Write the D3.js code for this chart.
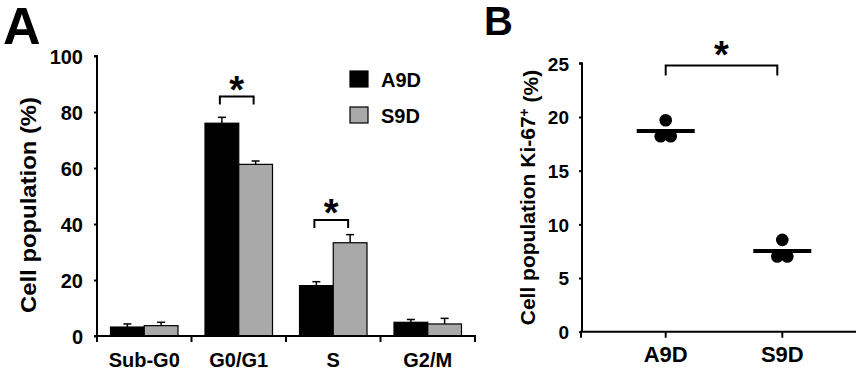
<!DOCTYPE html>
<html>
<head>
<meta charset="utf-8">
<script src="https://cdn.jsdelivr.net/npm/d3@7"></script>
<style>
  html, body { margin: 0; padding: 0; background: #fff; }
  svg { display: block; }
  text { font-family: "Liberation Sans", Arial, Helvetica, sans-serif; font-weight: bold; fill: #000; }
</style>
</head>
<body>
<svg id="chart" width="858" height="370"></svg>
<script>
// ---------- Panel A data ----------
const phases = ["Sub-G0", "G0/G1", "S", "G2/M"];
const seriesNames = ["A9D", "S9D"];
const a9dMean = [3.2, 76.0, 18.0, 4.9];
const a9dErr  = [1.1, 2.1, 1.4, 1.0];
const s9dMean = [3.7, 61.3, 33.3, 4.3];
const s9dErr  = [1.2, 1.2, 2.9, 2.0];
const yTicksA = [0, 20, 40, 60, 80, 100];
const sigA = [{ phase: "G0/G1", level: 85.5 }, { phase: "S", level: 41.4 }];

// ---------- Panel B data ----------
const groupsB = ["A9D", "S9D"];
const ki67A9D = [19.7, 18.2, 18.2];
const ki67S9D = [8.55, 7.0, 7.0];
const yTicksB = [0, 5, 10, 15, 20, 25];
const sigBLevel = 24.8;

const svg = d3.select("#chart");
const grayFill = "#a9a9a9";
const FONT = '"Liberation Sans", Arial, sans-serif';

// ================= PANEL A =================
const gA = svg.append("g");
const xA = d3.scaleBand().domain(phases).range([97, 475]).paddingInner(0).paddingOuter(0);
const xSub = d3.scaleBand().domain(seriesNames).range([0, xA.bandwidth()]).paddingInner(0).paddingOuter(0.4);
const yA = d3.scaleLinear().domain([0, 100]).range([336, 56]);

const barData = [];
phases.forEach((p, i) => {
  barData.push({ phase: p, s: "A9D", v: a9dMean[i], e: a9dErr[i] });
  barData.push({ phase: p, s: "S9D", v: s9dMean[i], e: s9dErr[i] });
});

// error bars
const eb = gA.append("g").selectAll("g").data(barData).join("g");
eb.append("line")
  .attr("x1", d => xA(d.phase) + xSub(d.s) + xSub.bandwidth() / 2)
  .attr("x2", d => xA(d.phase) + xSub(d.s) + xSub.bandwidth() / 2)
  .attr("y1", d => yA(d.v)).attr("y2", d => yA(d.v + d.e))
  .attr("stroke", "#000").attr("stroke-width", 1.5);
eb.append("line")
  .attr("x1", d => xA(d.phase) + xSub(d.s) + xSub.bandwidth() / 2 - 4)
  .attr("x2", d => xA(d.phase) + xSub(d.s) + xSub.bandwidth() / 2 + 4)
  .attr("y1", d => yA(d.v + d.e)).attr("y2", d => yA(d.v + d.e))
  .attr("stroke", "#000").attr("stroke-width", 1.5);

// bars
gA.append("g").selectAll("rect").data(barData).join("rect")
  .attr("x", d => xA(d.phase) + xSub(d.s))
  .attr("width", xSub.bandwidth())
  .attr("y", d => yA(d.v))
  .attr("height", d => yA(0) - yA(d.v))
  .attr("fill", d => d.s === "A9D" ? "#000" : grayFill)
  .attr("stroke", "#000").attr("stroke-width", 1.2);

// y axis
const axA = gA.append("g").attr("transform", "translate(97,0)")
  .call(d3.axisLeft(yA).tickValues(yTicksA).tickSize(3).tickPadding(11));
axA.select(".domain").attr("stroke-width", 2).attr("d", `M-3,${yA(100)}H0V${yA(0)}`);
axA.selectAll(".tick line").attr("stroke-width", 2);
axA.selectAll(".tick text").style("font-size", "20px").attr("dy", "0.36em")
  .style("font-family", FONT).style("font-weight", "bold");

// x axis
gA.append("line").attr("x1", 94).attr("x2", 476).attr("y1", yA(0)).attr("y2", yA(0))
  .attr("stroke", "#000").attr("stroke-width", 2);
const bounds = phases.map(p => xA(p)).concat([xA.range()[1]]);
gA.append("g").selectAll("line").data(bounds).join("line")
  .attr("x1", d => d).attr("x2", d => d)
  .attr("y1", yA(0)).attr("y2", yA(0) + 6)
  .attr("stroke", "#000").attr("stroke-width", 2);
gA.append("g").selectAll("text").data(phases).join("text")
  .attr("x", d => xA(d) + xA.bandwidth() / 2).attr("y", 367)
  .attr("text-anchor", "middle").style("font-size", "20px").text(d => d);

// y label
gA.append("text").attr("transform", `translate(36,${(97 + 313) / 2}) rotate(-90)`)
  .attr("text-anchor", "middle").style("font-size", "22px")
  .attr("textLength", 216).attr("lengthAdjust", "spacingAndGlyphs")
  .text("Cell population (%)");

// significance brackets
sigA.forEach(s => {
  const x1 = xA(s.phase) + xSub("A9D") + xSub.bandwidth() / 2 - 2;
  const x2 = xA(s.phase) + xSub("S9D") + xSub.bandwidth() / 2 - 2;
  const y = yA(s.level);
  gA.append("path").attr("d", `M${x1},${y + 8}V${y}H${x2}V${y + 8}`)
    .attr("fill", "none").attr("stroke", "#000").attr("stroke-width", 2);
  gA.append("text").attr("x", (x1 + x2) / 2).attr("y", y + 6)
    .attr("text-anchor", "middle").style("font-size", "38px").text("*");
});

// legend
const leg = gA.append("g");
seriesNames.forEach((s, i) => {
  leg.append("rect").attr("x", 350).attr("y", 71 + i * 36).attr("width", 18).attr("height", 16)
    .attr("fill", s === "A9D" ? "#000" : grayFill).attr("stroke", "#000").attr("stroke-width", 1.2);
  leg.append("text").attr("x", 381).attr("y", 87 + i * 36).style("font-size", "20px").text(s);
});

// panel letter
svg.append("text").attr("x", 3).attr("y", 44).style("font-size", "52px").text("A");

// ================= PANEL B =================
const gB = svg.append("g");
const xB = d3.scalePoint().domain(groupsB).range([665.7, 782.3]);
const yB = d3.scaleLinear().domain([0, 25]).range([331.7, 63.3]);

const ptsB = [
  { g: "A9D", vals: ki67A9D },
  { g: "S9D", vals: ki67S9D }
];

ptsB.forEach(grp => {
  const maxV = d3.max(grp.vals);
  let k = 0;
  const pts = grp.vals.map(v => {
    let off = 0;
    if (v !== maxV) { off = (k % 2 === 0 ? -5 : 5); k++; }
    return { v, off };
  });
  gB.append("g").selectAll("circle").data(pts).join("circle")
    .attr("cx", d => xB(grp.g) + d.off).attr("cy", d => yB(d.v))
    .attr("r", 6.3).attr("fill", "#000");
  const m = d3.mean(grp.vals);
  gB.append("line").attr("x1", xB(grp.g) - 29).attr("x2", xB(grp.g) + 29)
    .attr("y1", yB(m)).attr("y2", yB(m)).attr("stroke", "#000").attr("stroke-width", 4);
});

// y axis
const axB = gB.append("g").attr("transform", "translate(582,0)")
  .call(d3.axisLeft(yB).tickValues(yTicksB).tickSize(3).tickPadding(10));
axB.select(".domain").attr("stroke-width", 2).attr("d", `M-3,${yB(25)}H0V${yB(0)}`);
axB.selectAll(".tick line").attr("stroke-width", 2);
axB.selectAll(".tick text").style("font-size", "19px").attr("dy", "0.36em")
  .style("font-family", FONT).style("font-weight", "bold");

// x axis
gB.append("line").attr("x1", 580).attr("x2", 856).attr("y1", yB(0)).attr("y2", yB(0))
  .attr("stroke", "#000").attr("stroke-width", 2);
gB.append("g").selectAll("line").data([581].concat(groupsB.map(g => xB(g)))).join("line")
  .attr("x1", d => d).attr("x2", d => d)
  .attr("y1", yB(0)).attr("y2", yB(0) + 6)
  .attr("stroke", "#000").attr("stroke-width", 2);
gB.append("g").selectAll("text").data(groupsB).join("text")
  .attr("x", d => xB(d)).attr("y", 362)
  .attr("text-anchor", "middle").style("font-size", "22px").text(d => d);

// y label
const ylB = gB.append("text").attr("transform", `translate(535,${(67 + 328) / 2}) rotate(-90)`)
  .attr("text-anchor", "middle").style("font-size", "21px");
ylB.append("tspan").text("Cell population Ki-67");
ylB.append("tspan").attr("dy", "-0.45em").style("font-size", "14px").text("+");
ylB.append("tspan").attr("dy", "0.45em").text(" (%)");

// bracket
{
  const x1 = xB("A9D"), x2 = xB("S9D") - 5, y = yB(sigBLevel);
  gB.append("path").attr("d", `M${x1},${y + 10}V${y}H${x2}V${y + 10}`)
    .attr("fill", "none").attr("stroke", "#000").attr("stroke-width", 2);
  gB.append("text").attr("x", (x1 + x2) / 2).attr("y", y + 3)
    .attr("text-anchor", "middle").style("font-size", "38px").text("*");
}

// panel letter
svg.append("text").attr("x", 484).attr("y", 35).style("font-size", "40px").text("B");
</script>
</body>
</html>
